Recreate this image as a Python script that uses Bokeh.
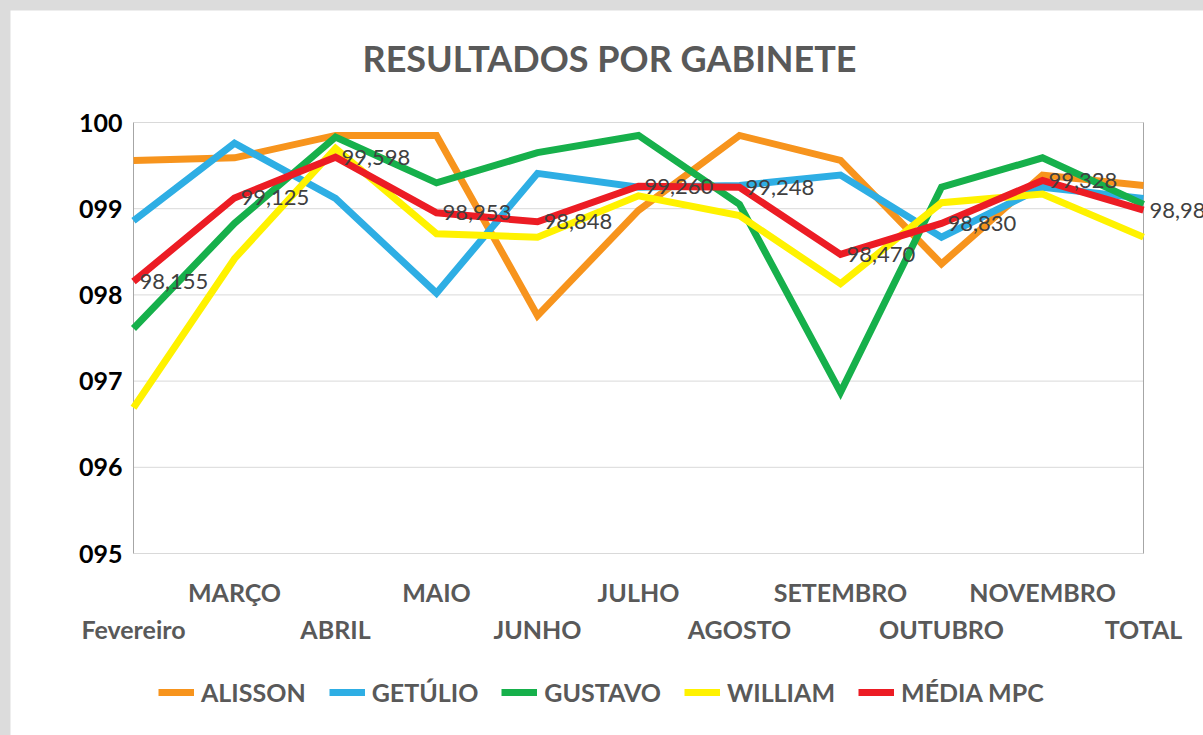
from bokeh.plotting import figure
from bokeh.models import (ColumnDataSource, Range1d, Legend, LegendItem, LabelSet, Label)
from bokeh.core.properties import value
from bokeh.embed import file_html
from bokeh.resources import INLINE

# ---- data ----
months = ["Fevereiro", "MARÇO", "ABRIL", "MAIO", "JUNHO", "JULHO", "AGOSTO",
          "SETEMBRO", "OUTUBRO", "NOVEMBRO", "TOTAL"]
alisson = [99.56, 99.59, 99.85, 99.85, 97.76, 98.98, 99.85, 99.56, 98.36, 99.39, 99.27]
getulio = [98.86, 99.76, 99.12, 98.02, 99.41, 99.25, 99.27, 99.39, 98.67, 99.25, 99.12]
gustavo = [97.61, 98.83, 99.83, 99.30, 99.65, 99.85, 99.05, 96.87, 99.25, 99.59, 99.05]
william = [96.69, 98.42, 99.70, 98.71, 98.67, 99.15, 98.92, 98.13, 99.07, 99.17, 98.67]
media = [98.155, 99.125, 99.598, 98.953, 98.848, 99.260, 99.248, 98.470, 98.830, 99.328, 98.983]
series_names = ["ALISSON", "GETÚLIO", "GUSTAVO", "WILLIAM", "MÉDIA MPC"]
y_ticks = [95, 96, 97, 98, 99, 100]
y_tick_labels = ["095", "096", "097", "098", "099", "100"]
title_text = "RESULTADOS POR GABINETE"

colors = ["#f7941d", "#2eaee4", "#16b04b", "#fff200", "#ec1c24"]
FONT = "Lato"
GRAY = "#595959"

n = len(months)
xs = list(range(n))

# ---- layout (page pixels) ----
MARGIN = 10
AREA_L, AREA_R, AREA_T, AREA_B = 133, 1143, 122, 553   # visible plot area
PAGE_W, PAGE_H = 1203, 735
FRAME_W = PAGE_W - MARGIN
FRAME_H = PAGE_H - MARGIN
PXX = (AREA_R - AREA_L) / (n - 1)                      # px per category step
PXY = (AREA_B - AREA_T) / (y_ticks[-1] - y_ticks[0])   # px per unit

x_start = -(AREA_L - MARGIN) / PXX
x_end = (PAGE_W - AREA_L) / PXX
y_top = y_ticks[-1] + (AREA_T - MARGIN) / PXY
y_bot = y_ticks[0] - (PAGE_H - AREA_B) / PXY

p = figure(width=FRAME_W, height=FRAME_H, frame_width=FRAME_W, frame_height=FRAME_H,
           output_backend="svg", toolbar_location=None,
           x_range=Range1d(x_start, x_end), y_range=Range1d(y_bot, y_top),
           min_border_left=0, min_border_right=0, min_border_top=0, min_border_bottom=0,
           x_axis_location=None, y_axis_location=None)
p.margin = (MARGIN, 0, 0, MARGIN)
p.background_fill_color = "white"
p.border_fill_color = "white"
p.outline_line_color = None
p.xgrid.visible = False
p.ygrid.visible = False

# gridlines limited to the plot area, plus left and right borders
grid_src = ColumnDataSource(dict(x0=[0] * len(y_ticks), x1=[n - 1] * len(y_ticks), y=y_ticks))
p.segment(x0="x0", y0="y", x1="x1", y1="y", source=grid_src, line_color="#d9d9d9", line_width=1)
p.segment(x0=[0, n - 1], y0=[y_ticks[0]] * 2, x1=[0, n - 1], y1=[y_ticks[-1]] * 2,
          line_color="#a6a6a6", line_width=1)

# y tick labels
ytl_src = ColumnDataSource(dict(x=[0] * len(y_ticks), y=y_ticks, t=y_tick_labels))
p.add_layout(LabelSet(x="x", y="y", text="t", source=ytl_src, x_offset=-11,
                      text_font=value(FONT), text_font_style="bold", text_font_size="25px",
                      text_color="#000000", text_align="right", text_baseline="middle"))

# series
renderers = []
for name, vals, col in zip(series_names, [alisson, getulio, gustavo, william, media], colors):
    src = ColumnDataSource(dict(x=xs, y=vals))
    r = p.line("x", "y", source=src, line_color=col, line_width=7, line_join="miter")
    renderers.append((name, r))

# data labels for the average
lab_src = ColumnDataSource(dict(x=xs, y=media, t=[f"{v:.3f}".replace(".", ",") for v in media]))
p.add_layout(LabelSet(x="x", y="y", text="t", source=lab_src, x_offset=6, y_offset=0,
                      text_font=value(FONT), text_font_size="22px", text_color="#404040",
                      text_baseline="middle", text_align="left"))

# staggered category labels
for parity, dy in ((1, -38), (0, -75)):
    idx = [i for i in xs if i % 2 == parity]
    src = ColumnDataSource(dict(x=idx, y=[y_ticks[0]] * len(idx), t=[months[i] for i in idx]))
    p.add_layout(LabelSet(x="x", y="y", text="t", source=src, y_offset=dy,
                          text_font=value(FONT), text_font_style="bold",
                          text_font_size="25px", text_color=GRAY,
                          text_align="center", text_baseline="middle"))

# title
p.add_layout(Label(x=(362 - AREA_L) / PXX, y=y_ticks[-1] + (AREA_T - 57) / PXY,
                   text=title_text, text_font=FONT, text_font_style="bold",
                   text_font_size="36px", text_color=GRAY,
                   text_align="left", text_baseline="middle"))

# legend
legend = Legend(items=[LegendItem(label=nm, renderers=[r]) for nm, r in renderers],
                orientation="horizontal", location=(AREA_L - MARGIN + 25, 28),
                label_text_font=FONT, label_text_font_style="bold",
                label_text_font_size="25px", label_text_color=GRAY,
                glyph_width=36, glyph_height=20, label_standoff=7, spacing=23,
                background_fill_alpha=0, border_line_color=None, padding=0, margin=0)
p.add_layout(legend)

html = file_html(p, INLINE)
html = html.replace("</head>", "<style>html, body { background: #dcdcdc !important; }</style></head>", 1)
open("out.html", "w").write(html)
